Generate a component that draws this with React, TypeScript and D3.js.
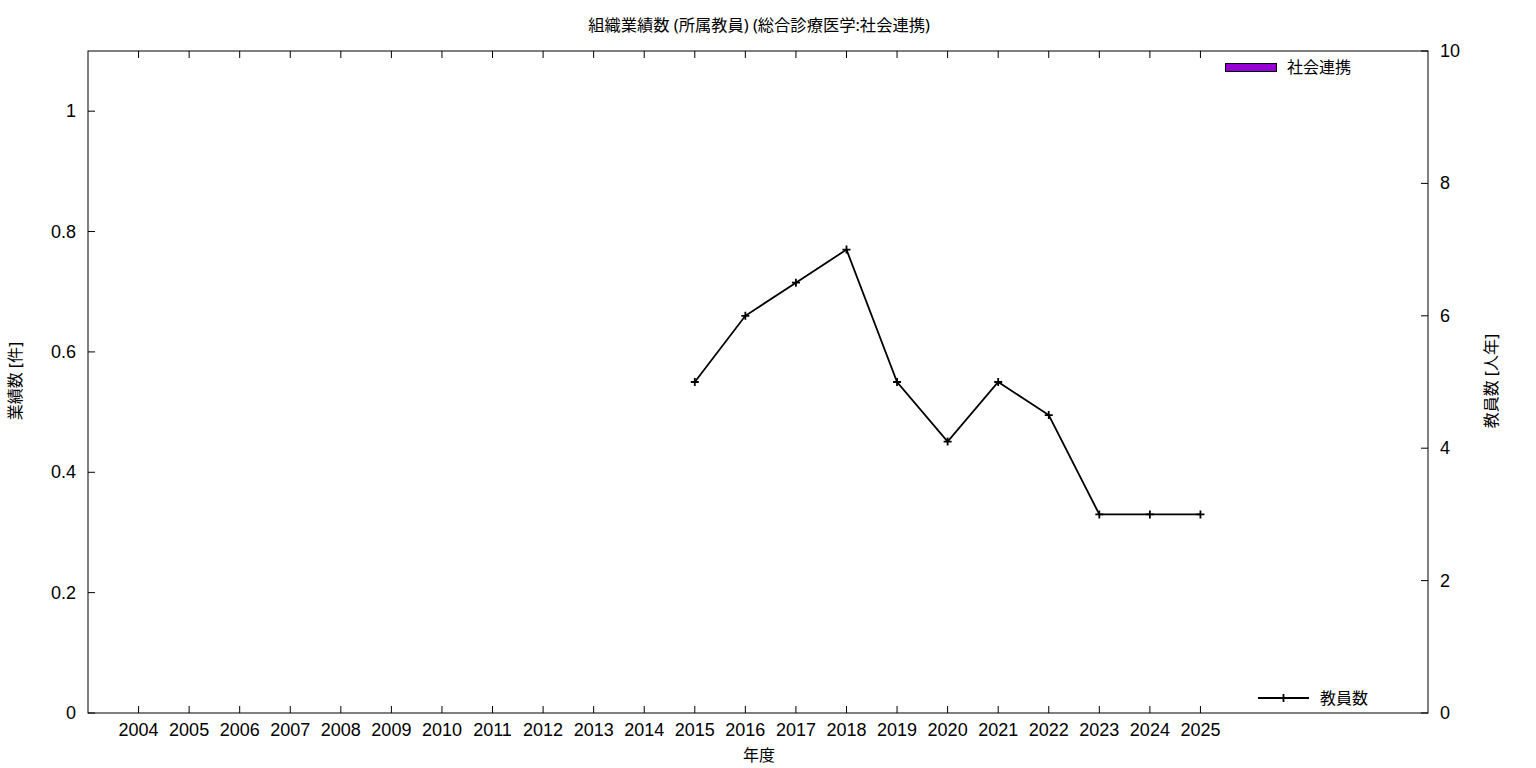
import React from "react";
import * as d3 from "d3";

const years = ["2004","2005","2006","2007","2008","2009","2010","2011","2012","2013","2014","2015","2016","2017","2018","2019","2020","2021","2022","2023","2024","2025"];
const staffYears = ["2015","2016","2017","2018","2019","2020","2021","2022","2023","2024","2025"];
const staffValues = [5, 6, 6.5, 7, 5, 4.1, 5, 4.5, 3, 3, 3];
const leftTicks = [0, 0.2, 0.4, 0.6, 0.8, 1];
const rightTicks = [0, 2, 4, 6, 8, 10];

const W = 1536, H = 768;
const L = 88, R = 1428, T = 51, B = 713;
const FONT = "'Noto Sans', 'Noto Sans CJK JP', sans-serif";
const NUMFONT = "'Liberation Sans', Arial, sans-serif";

export default function App() {
  const x = d3.scaleLinear().domain([-1, 25.5]).range([L, R]);
  const yL = d3.scaleLinear().domain([0, 1.1]).range([B, T]);
  const yR = d3.scaleLinear().domain([0, 10]).range([B, T]);
  const pts: [number, number][] = staffYears.map((yr, i) => [x(years.indexOf(yr)), yR(staffValues[i])]);
  const line = d3.line()(pts) || "";
  const tk = 7;
  const plus = (cx: number, cy: number, k: string) => (
    <path key={k} d={`M${cx - 4},${cy}H${cx + 4}M${cx},${cy - 4}V${cy + 4}`} stroke="#000" strokeWidth={1.8} />
  );
  return (
    <svg width={W} height={H} style={{ position: "absolute", left: 0, top: 0, background: "#fff" }} fontFamily={FONT}>
      <rect x={0} y={0} width={W} height={H} fill="#fff" />
      <g fontFamily={NUMFONT} fontSize={18}>
        {years.map((yr, i) => (
          <g key={yr}>
            <line x1={x(i)} x2={x(i)} y1={B} y2={B - tk} stroke="#000" />
            <line x1={x(i)} x2={x(i)} y1={T} y2={T + tk} stroke="#000" />
            <text x={x(i)} y={736} textAnchor="middle">{yr}</text>
          </g>
        ))}
        {leftTicks.map((v) => (
          <g key={"l" + v}>
            <line x1={L} x2={L + tk} y1={yL(v)} y2={yL(v)} stroke="#000" />
            <text x={76} y={yL(v) + 6} textAnchor="end">{String(v)}</text>
          </g>
        ))}
        {rightTicks.map((v) => (
          <g key={"r" + v}>
            <line x1={R} x2={R - tk} y1={yR(v)} y2={yR(v)} stroke="#000" />
            <text x={1440} y={yR(v) + 6} textAnchor="start">{String(v)}</text>
          </g>
        ))}
      </g>
      <rect x={L} y={T} width={R - L} height={B - T} fill="none" stroke="#000" strokeWidth={1} />
      <path d={line} fill="none" stroke="#000" strokeWidth={1.8} />
      {pts.map((p, i) => plus(p[0], p[1], "p" + i))}
      <text x={759} y={31} textAnchor="middle" fontSize={16.3}>組織業績数 (所属教員) (総合診療医学:社会連携)</text>
      <text x={759} y={761} textAnchor="middle" fontSize={16}>年度</text>
      <text transform={`translate(21,381) rotate(-90)`} textAnchor="middle" fontSize={16}>業績数 [件]</text>
      <text transform={`translate(1497,381) rotate(-90)`} textAnchor="middle" fontSize={16}>教員数 [人年]</text>
      <rect x={1225.5} y={63.5} width={51} height={8} fill="#9400d3" stroke="#000" />
      <text x={1287} y={73} fontSize={16}>社会連携</text>
      <line x1={1258} x2={1309} y1={698} y2={698} stroke="#000" strokeWidth={1.8} />
      {plus(1283.5, 698, "leg")}
      <text x={1320} y={704} fontSize={16}>教員数</text>
    </svg>
  );
}
